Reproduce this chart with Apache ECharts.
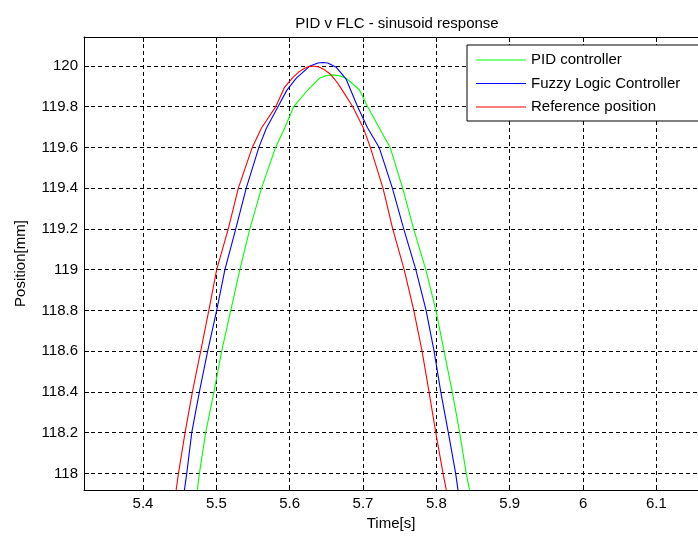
<!DOCTYPE html>
<html>
<head>
<meta charset="utf-8">
<script src="https://cdn.jsdelivr.net/npm/echarts@6/dist/echarts.min.js"></script>
<style>
html,body{margin:0;padding:0;background:#fff;}
#chart{width:698px;height:536px;}
</style>
</head>
<body>
<div id="chart"></div>
<script>
// ---- Data ----
const chartTitle = 'PID v FLC - sinusoid response';
const xAxisName = 'Time[s]';
const yAxisName = 'Position[mm]';
const seriesNames = ['PID controller', 'Fuzzy Logic Controller', 'Reference position'];

const pidTime = [5.4741,5.4769,5.4855,5.4968,5.5073,5.5197,5.5321,5.5457,5.5616,5.5808,5.5932,5.6054,5.6249,5.6407,5.6500,5.6588,5.6680,5.6770,5.6950,5.7063,5.7222,5.7370,5.7540,5.7690,5.7856,5.7994,5.8105,5.8217,5.8318,5.8407,5.8453];
const pidPos  = [117.918,118.0,118.2,118.4,118.6,118.8,119.0,119.2,119.4,119.6,119.695,119.8,119.883,119.940,119.953,119.956,119.952,119.940,119.883,119.8,119.695,119.6,119.4,119.2,119.0,118.8,118.6,118.4,118.2,118.0,117.918];

const flcTime = [5.4565,5.4597,5.4665,5.4769,5.4882,5.5005,5.5117,5.5265,5.5408,5.5580,5.5684,5.5841,5.5960,5.6091,5.6270,5.6385,5.6450,5.6520,5.6634,5.6770,5.6927,5.7063,5.7220,5.7400,5.7555,5.7720,5.7860,5.7969,5.8060,5.8163,5.8263,5.8295];
const flcPos  = [117.918,118.0,118.2,118.4,118.6,118.8,119.0,119.2,119.4,119.6,119.695,119.8,119.880,119.940,119.998,120.014,120.017,120.014,119.994,119.935,119.8,119.695,119.6,119.4,119.2,119.0,118.8,118.6,118.4,118.2,118.0,117.918];

const refTime = [5.4452,5.4484,5.4574,5.4674,5.4787,5.4898,5.5005,5.5163,5.5300,5.5490,5.5616,5.5810,5.5930,5.6045,5.6130,5.6204,5.6260,5.6320,5.6400,5.6470,5.6543,5.6620,5.6702,5.6860,5.7005,5.7100,5.7272,5.7405,5.7561,5.7692,5.7805,5.7900,5.7992,5.8091,5.8136];
const refPos  = [117.918,118.0,118.2,118.4,118.6,118.8,119.0,119.2,119.4,119.6,119.695,119.8,119.895,119.944,119.972,119.989,119.997,120.0,119.995,119.982,119.963,119.932,119.890,119.8,119.695,119.6,119.4,119.2,119.0,118.8,118.6,118.4,118.2,118.0,117.918];

const xRange = [5.3196, 6.1567];
const yRange = [117.918, 120.142];
// ----------------------------------------------

function pairs(t, v){ return t.map((x,i)=>[x, v[i]]); }
const FONT = "'Liberation Sans', Arial, sans-serif";
const fmt = v => String(parseFloat(Number(v).toFixed(2)));
const colors = ['#00ff00', '#0000ff', '#ff0000'];

const chart = echarts.init(document.getElementById('chart'), null, {renderer:'canvas'});
const option = {
  backgroundColor: '#fff',
  animation: false,
  title: {
    text: chartTitle, left: 392, top: 11, textAlign: 'center',
    textStyle: {fontFamily: FONT, fontSize: 15, fontWeight: 'normal', color: '#000'}
  },
  legend: {
    orient: 'vertical', left: 467, top: 45,
    data: seriesNames.map((n, i) => ({name: n, itemStyle: {color: colors[i], borderWidth: 0, opacity: 1}})),
    icon: 'rect',
    backgroundColor: '#fff', borderColor: '#000', borderWidth: 1,
    padding: [7, 60, 6, 9],
    itemWidth: 50, itemHeight: 1, itemGap: 7.5,
    itemStyle: {borderWidth: 0},
    textStyle: {fontFamily: FONT, fontSize: 15, color: '#000', lineHeight: 16},
    selectedMode: false
  },
  grid: {left: 84, top: 37, right: -2, bottom: 43, containLabel: false},
  xAxis: [{
    type: 'value', min: xRange[0], max: xRange[1],
    splitNumber: 8, minInterval: 0.1, maxInterval: 0.1,
    name: xAxisName, nameLocation: 'middle', nameGap: 25,
    nameTextStyle: {fontFamily: FONT, fontSize: 15, color: '#000'},
    axisLine: {show: true, onZero: false, lineStyle: {color: '#000', width: 1}},
    axisTick: {show: true, inside: true, length: 5, lineStyle: {color: '#000'}},
    axisLabel: {show: true, margin: 6, fontFamily: FONT, fontSize: 15, color: '#000',
      showMinLabel: false, showMaxLabel: false, formatter: fmt},
    splitLine: {show: true, lineStyle: {color: '#000', type: [4, 3], width: 1}}
  }, {
    type: 'value', position: 'top', min: xRange[0], max: xRange[1],
    splitNumber: 8, minInterval: 0.1, maxInterval: 0.1,
    axisLine: {show: true, onZero: false, lineStyle: {color: '#000', width: 1}},
    axisTick: {show: true, inside: true, length: 5, lineStyle: {color: '#000'}},
    axisLabel: {show: false},
    splitLine: {show: false}
  }],
  yAxis: [{
    type: 'value', min: yRange[0], max: yRange[1],
    splitNumber: 11, minInterval: 0.2, maxInterval: 0.2,
    name: yAxisName, nameLocation: 'middle', nameGap: 56, nameRotate: 90,
    nameTextStyle: {fontFamily: FONT, fontSize: 15, color: '#000'},
    axisLine: {show: true, onZero: false, lineStyle: {color: '#000', width: 1}},
    axisTick: {show: true, inside: true, length: 5, lineStyle: {color: '#000'}},
    axisLabel: {show: true, margin: 6, fontFamily: FONT, fontSize: 15, color: '#000',
      showMinLabel: false, showMaxLabel: false, formatter: fmt},
    splitLine: {show: true, lineStyle: {color: '#000', type: [4, 3], width: 1}}
  }],
  series: [
    {name: seriesNames[0], type: 'line', data: pairs(pidTime, pidPos), symbol: 'none', smooth: false,
     lineStyle: {color: colors[0], width: 1.1}, itemStyle: {color: colors[0]}, clip: true},
    {name: seriesNames[1], type: 'line', data: pairs(flcTime, flcPos), symbol: 'none', smooth: false,
     lineStyle: {color: colors[1], width: 1.1}, itemStyle: {color: colors[1]}, clip: true},
    {name: seriesNames[2], type: 'line', data: pairs(refTime, refPos), symbol: 'none', smooth: false,
     lineStyle: {color: colors[2], width: 1.1}, itemStyle: {color: colors[2]}, clip: true}
  ]
};
chart.setOption(option);
</script>
</body>
</html>
